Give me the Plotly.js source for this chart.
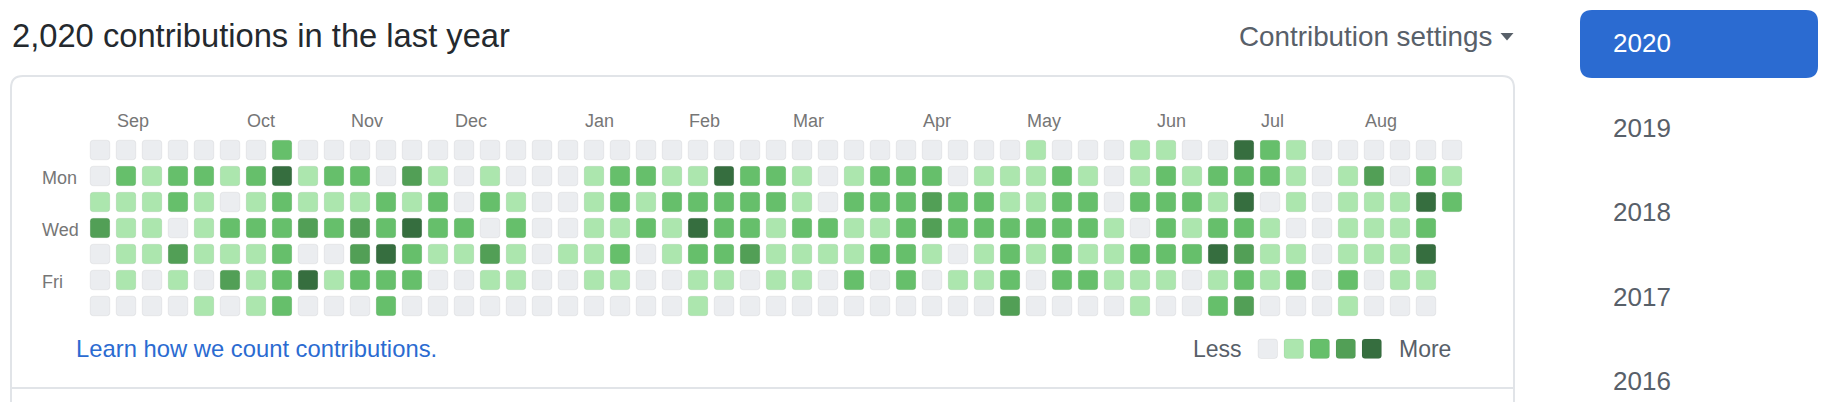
<!DOCTYPE html>
<html>
<head>
<meta charset="utf-8">
<script src="https://cdn.plot.ly/plotly-3.0.1.min.js"></script>
<style>
html,body{margin:0;padding:0;background:#fff;}
#chart{width:1828px;height:402px;}
</style>
</head>
<body>
<div id="chart"></div>
<script>
// ---- data ----
const totalLabel = "2,020 contributions in the last year";
const monthLabels = ["Sep","Oct","Nov","Dec","Jan","Feb","Mar","Apr","May","Jun","Jul","Aug"];
const monthWeeks  = [1, 6, 10, 14, 19, 23, 27, 32, 36, 41, 45, 49];
const dayLabels = ["Mon","Wed","Fri"];
const dayRows   = [1, 3, 5];
const years = ["2020","2019","2018","2017","2016"];
const levelNames = ["Less","More"];

// contribution level (0-4) per week column, one array per weekday
const sun = [0,0,0,0,0,0,0,2,0,0,0,0, 0,0,0,0,0,0,0,0,0,0,0,0,0, 0,0,0,0,0,0,0,0,0,0,0,1,0,0, 0,1,1,0,0,4,2,1,0,0,0,0,0,0];
const mon = [0,2,1,2,2,1,2,4,1,2,2,0, 3,1,0,1,0,0,0,1,2,2,1,1,4, 2,2,1,0,1,2,2,2,0,1,1,1,2,1, 0,1,2,1,2,2,2,1,0,1,3,0,2,1];
const tue = [1,1,1,2,1,0,1,2,1,1,1,2, 1,2,0,2,1,0,0,1,2,1,2,2,2, 2,2,1,0,2,2,2,3,2,2,1,1,2,2, 0,2,2,2,1,4,0,1,0,1,1,1,4,2];
const wed = [3,1,1,0,1,2,2,2,3,2,3,2, 4,2,2,0,2,0,0,1,1,2,1,4,2, 2,1,2,2,1,1,2,3,2,2,2,2,2,2, 1,0,2,1,2,2,1,0,0,1,1,1,2,null];
const thu = [0,1,1,3,1,1,1,2,0,0,3,4, 2,1,1,3,1,0,1,1,2,0,1,2,2, 3,1,1,1,1,2,2,1,0,1,2,1,2,1, 1,2,2,2,4,3,1,1,0,1,1,1,4,null];
const fri = [0,1,0,1,0,3,1,2,4,1,2,2, 2,0,0,1,1,0,0,1,1,0,0,1,1, 0,1,1,0,2,0,2,0,1,1,2,0,2,2, 1,1,1,0,1,2,1,2,0,2,0,1,1,null];
const sat = [0,0,0,0,1,0,1,2,0,0,0,2, 0,0,0,0,0,0,0,0,0,0,0,1,0, 0,0,0,0,0,0,0,0,0,0,3,0,0,0, 0,1,0,0,2,3,0,0,0,1,0,0,0,null];
const weekdays = [sun, mon, tue, wed, thu, fri, sat];

// ---- style ----
const levelColors = ["#ebedf0","#ace6ae","#66bf6b","#529f56","#366e3f"];
const W = 1828, H = 402;
const FONT = "Liberation Sans, Arial, sans-serif";
const px = x => x / W;
const py = y => 1 - y / H;

function roundRect(x0, y0, x1, y1, rx, ry) {
  return `M${x0+rx},${y0} L${x1-rx},${y0} Q${x1},${y0} ${x1},${y0+ry} ` +
         `L${x1},${y1-ry} Q${x1},${y1} ${x1-rx},${y1} L${x0+rx},${y1} ` +
         `Q${x0},${y1} ${x0},${y1-ry} L${x0},${y0+ry} Q${x0},${y0} ${x0+rx},${y0} Z`;
}
function roundRectPx(x0, y0, x1, y1, r) {
  const rx = r / W, ry = r / H;
  const X0 = px(x0), X1 = px(x1), Y0 = py(y0), Y1 = py(y1);
  return `M${X0+rx},${Y0} L${X1-rx},${Y0} Q${X1},${Y0} ${X1},${Y0-ry} ` +
         `L${X1},${Y1+ry} Q${X1},${Y1} ${X1-rx},${Y1} L${X0+rx},${Y1} ` +
         `Q${X0},${Y1} ${X0},${Y1+ry} L${X0},${Y0-ry} Q${X0},${Y0} ${X0+rx},${Y0} Z`;
}

const shapes = [];
const annotations = [];
const cx = [], cy = [], ctext = [];
const half = 0.377, rr = 3 / 26;
weekdays.forEach((row, d) => {
  row.forEach((lvl, w) => {
    if (lvl === null || lvl === undefined) return;
    cx.push(w); cy.push(d); ctext.push("level " + lvl);
    shapes.push({
      type: "path", xref: "x", yref: "y", layer: "above",
      path: roundRect(w - half, d - half, w + half, d + half, rr, rr),
      fillcolor: levelColors[lvl],
      line: {color: "rgba(27,31,35,0.06)", width: 1}
    });
  });
});

// legend squares
levelColors.forEach((c, i) => {
  const x0 = 1258 + 26 * i;
  shapes.push({
    type: "path", xref: "paper", yref: "paper", layer: "above",
    path: roundRectPx(x0, 339, x0 + 19.5, 358.5, 3),
    fillcolor: c, line: {color: "rgba(27,31,35,0.06)", width: 1}
  });
});

// box border
shapes.push({
  type: "path", xref: "paper", yref: "paper", layer: "below",
  path: roundRectPx(11, 76, 1514, 440, 12),
  fillcolor: "rgba(0,0,0,0)", line: {color: "#e1e4e8", width: 2}
});
shapes.push({
  type: "line", xref: "paper", yref: "paper", layer: "below",
  x0: px(11), x1: px(1514), y0: py(388), y1: py(388),
  line: {color: "#e1e4e8", width: 2}
});
// dropdown caret
shapes.push({
  type: "path", xref: "paper", yref: "paper",
  path: `M${px(1500.5)},${py(33)} L${px(1513.5)},${py(33)} L${px(1507)},${py(40.5)} Z`,
  fillcolor: "#586069", line: {width: 0}
});
// selected year button
shapes.push({
  type: "path", xref: "paper", yref: "paper", layer: "below",
  path: roundRectPx(1580, 10, 1818, 78, 12),
  fillcolor: "#2b6bd1", line: {width: 0}
});

function ann(o) {
  annotations.push(Object.assign({showarrow: false, borderpad: 0, xanchor: "left", yanchor: "middle"}, o));
}

ann({xref: "paper", yref: "paper", x: px(11), y: py(35), text: totalLabel,
     font: {family: FONT, size: 32.7, color: "#24292e"}});
ann({xref: "paper", yref: "paper", x: px(1238), y: py(37), text: "Contribution settings",
     font: {family: FONT, size: 27.8, color: "#586069"}});

monthLabels.forEach((m, i) => {
  ann({xref: "x", yref: "y", x: monthWeeks[i] - 0.385, y: (120.5 - 150) / 26, text: m,
       font: {family: FONT, size: 18, color: "#767676"}});
});
dayLabels.forEach((d, i) => {
  ann({xref: "paper", yref: "y", x: px(41), y: dayRows[i] + 2 / 26, text: d,
       font: {family: FONT, size: 18, color: "#767676"}});
});

ann({xref: "paper", yref: "paper", x: px(75), y: py(348.5), text: "Learn how we count contributions.",
     font: {family: FONT, size: 23.8, color: "#2b6bd1"}});
ann({xref: "paper", yref: "paper", x: px(1192), y: py(349), text: levelNames[0],
     font: {family: FONT, size: 23, color: "#586069"}});
ann({xref: "paper", yref: "paper", x: px(1398), y: py(349), text: levelNames[1],
     font: {family: FONT, size: 23, color: "#586069"}});

const yearY = [43, 127.5, 212, 296.5, 381];
years.forEach((y, i) => {
  ann({xref: "paper", yref: "paper", x: px(1612), y: py(yearY[i]), text: y,
       font: {family: FONT, size: 26, color: i === 0 ? "#ffffff" : "#586069"}});
});

const trace = {
  type: "scatter", mode: "markers", x: cx, y: cy, text: ctext,
  marker: {opacity: 0, size: 1}, hoverinfo: "skip", showlegend: false
};

const layout = {
  width: W, height: H,
  margin: {l: 0, r: 0, t: 0, b: 0, pad: 0},
  paper_bgcolor: "#ffffff", plot_bgcolor: "#ffffff",
  xaxis: {range: [-100 / 26, (W - 100) / 26], visible: false, fixedrange: true},
  yaxis: {range: [(H - 150) / 26, -150 / 26], visible: false, fixedrange: true},
  shapes: shapes, annotations: annotations,
  showlegend: false, hovermode: false
};

Plotly.newPlot("chart", [trace], layout, {displayModeBar: false, staticPlot: true});
</script>
</body>
</html>
